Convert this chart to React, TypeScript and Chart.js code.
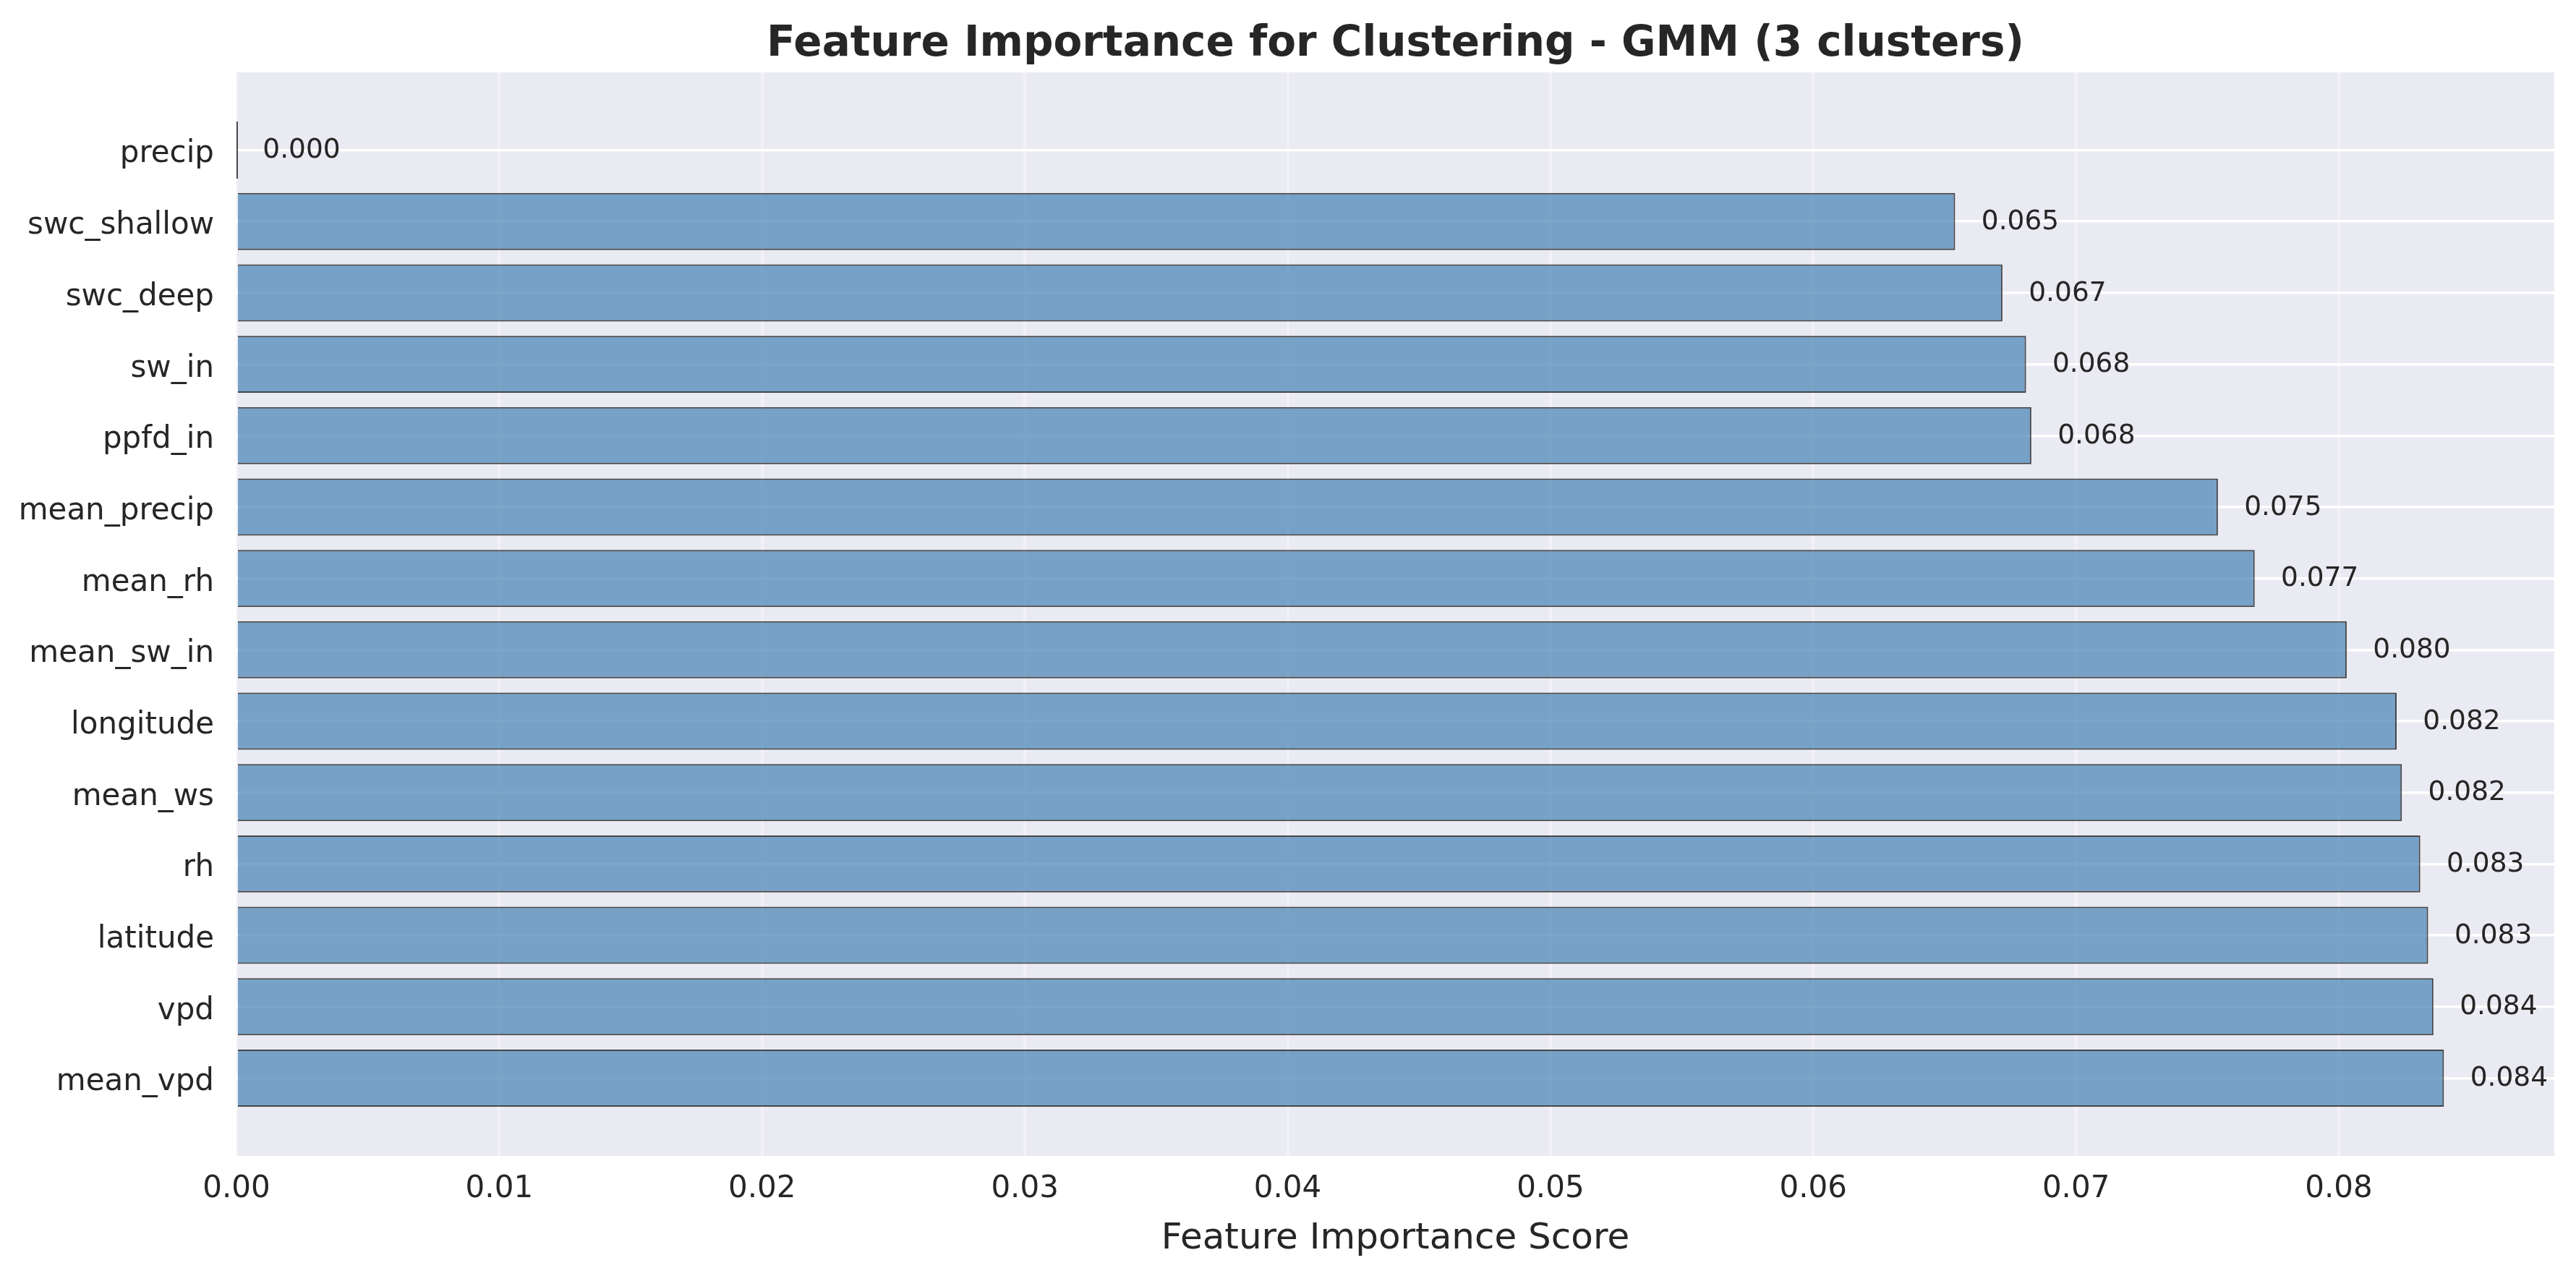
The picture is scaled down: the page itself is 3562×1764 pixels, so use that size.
import React, { useEffect, useRef } from 'react';
import { Chart, registerables } from 'chart.js';

Chart.register(...registerables);

// Data (top-to-bottom as displayed)
const features = [
  'precip', 'swc_shallow', 'swc_deep', 'sw_in', 'ppfd_in', 'mean_precip', 'mean_rh',
  'mean_sw_in', 'longitude', 'mean_ws', 'rh', 'latitude', 'vpd', 'mean_vpd',
];
const importance = [
  0.0, 0.0654, 0.0672, 0.0681, 0.0683, 0.0754, 0.0768,
  0.0803, 0.0822, 0.0824, 0.0831, 0.0834, 0.0836, 0.0840,
];
const xTicks = [0, 0.01, 0.02, 0.03, 0.04, 0.05, 0.06, 0.07, 0.08];
const titleText = 'Feature Importance for Clustering - GMM (3 clusters)';
const xLabel = 'Feature Importance Score';

const FONT = "'DejaVu Sans', 'Liberation Sans', sans-serif";
const TEXT = '#262626';
const N = features.length;

export default function App() {
  const ref = useRef<HTMLCanvasElement | null>(null);

  useEffect(() => {
    document.body.style.margin = '0';
    const canvas = ref.current;
    if (!canvas) return;

    const bgPlugin = {
      id: 'bgPlugin',
      beforeDraw(chart: any) {
        const { ctx, chartArea } = chart;
        ctx.save();
        ctx.fillStyle = '#FFFFFF';
        ctx.fillRect(0, 0, chart.width, chart.height);
        ctx.fillStyle = '#EAEAF2';
        ctx.fillRect(chartArea.left, chartArea.top, chartArea.right - chartArea.left, chartArea.bottom - chartArea.top);
        ctx.restore();
      },
      afterDraw(chart: any) {
        const { ctx, chartArea } = chart;
        ctx.save();
        ctx.fillStyle = TEXT;
        ctx.font = `bold 58px ${FONT}`;
        ctx.textAlign = 'center';
        ctx.textBaseline = 'middle';
        ctx.fillText(titleText, (chartArea.left + chartArea.right) / 2, 62);
        ctx.restore();
      },
    };

    const valuePlugin = {
      id: 'valuePlugin',
      afterDatasetsDraw(chart: any) {
        const { ctx } = chart;
        const meta = chart.getDatasetMeta(0);
        const xs = chart.scales.x;
        ctx.save();
        meta.data.forEach((el: any, i: number) => {
          const v = importance[i];
          // edge outline for zero-width bars (matplotlib still draws the edge)
          if (Math.abs(el.x - el.base) < 1) {
            ctx.strokeStyle = 'rgba(0,0,0,0.7)';
            ctx.lineWidth = 2;
            ctx.beginPath();
            ctx.moveTo(el.base + 1, el.y - el.height / 2);
            ctx.lineTo(el.base + 1, el.y + el.height / 2);
            ctx.stroke();
          }
          ctx.fillStyle = TEXT;
          ctx.font = `37.5px ${FONT}`;
          ctx.textAlign = 'left';
          ctx.textBaseline = 'middle';
          ctx.fillText(v.toFixed(3), xs.getPixelForValue(v + 0.001), el.y + 1);
        });
        ctx.restore();
      },
    };

    const chart = new Chart(canvas, {
      type: 'bar',
      data: {
        datasets: [
          {
            data: importance.map((v, i) => ({ x: v, y: N - 1 - i })),
            backgroundColor: 'rgba(70,130,180,0.7)',
            borderColor: 'rgba(0,0,0,0.7)',
            borderWidth: 2,
            categoryPercentage: 1,
            barPercentage: 0.8,
          } as any,
        ],
      },
      options: {
        indexAxis: 'y',
        responsive: false,
        animation: false,
        layout: { padding: { top: 100, right: 30, left: 0, bottom: 0 } },
        plugins: {
          legend: { display: false },
          tooltip: { enabled: false },
          title: { display: false },
        },
        scales: {
          x: {
            type: 'linear',
            min: 0,
            max: 0.0882,
            afterBuildTicks: (s: any) => {
              s.ticks = xTicks.map((v) => ({ value: v }));
            },
            afterFit: (s: any) => {
              s.height = 166;
            },
            ticks: {
              callback: (v: any) => Number(v).toFixed(2),
              font: { size: 42, family: FONT },
              color: TEXT,
              padding: 21,
              autoSkip: false,
              maxRotation: 0,
            },
            grid: { color: 'rgba(255,255,255,0.35)', lineWidth: 4, drawTicks: false },
            border: { display: false },
            title: {
              display: true,
              text: xLabel,
              font: { size: 50, family: FONT },
              color: TEXT,
              padding: { top: 0, bottom: 21 },
            },
          },
          y: {
            type: 'linear',
            min: -1.09,
            max: 14.09,
            offset: false,
            afterBuildTicks: (s: any) => {
              s.ticks = features.map((_, i) => ({ value: i }));
            },
            afterFit: (s: any) => {
              s.width = 327;
            },
            ticks: {
              callback: (v: any) => features[N - 1 - Number(v)],
              font: { size: 42, family: FONT },
              color: TEXT,
              padding: 31,
              labelOffset: 6,
              autoSkip: false,
            },
            grid: { color: '#FFFFFF', lineWidth: 3.5, drawTicks: false, offset: false },
            border: { display: false },
          },
        },
      } as any,
      plugins: [bgPlugin, valuePlugin],
    });

    return () => chart.destroy();
  }, []);

  return <canvas ref={ref} width={3562} height={1764} style={{ display: 'block' }} />;
}
